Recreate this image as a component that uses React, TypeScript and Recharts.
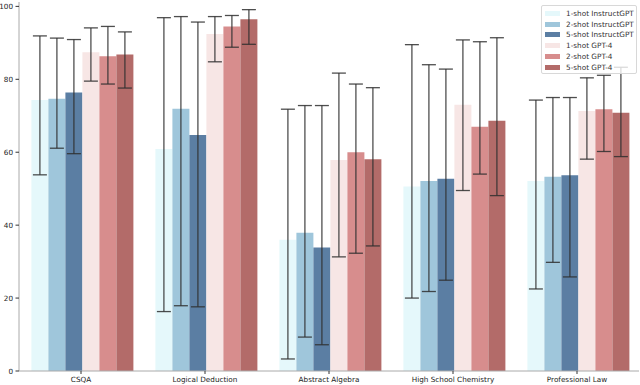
import { BarChart, Bar, XAxis, YAxis, ErrorBar, Legend } from 'recharts';

document.body.style.margin = '0';

const categories = ['CSQA', 'Logical Deduction', 'Abstract Algebra', 'High School Chemistry', 'Professional Law'];
const yTicks = [0, 20, 40, 60, 80, 100];

// bar heights
const oneShotIG = [74.3, 60.9, 36.0, 50.6, 52.1];
const twoShotIG = [74.7, 71.9, 37.9, 52.1, 53.3];
const fiveShotIG = [76.4, 64.7, 33.9, 52.7, 53.7];
const oneShotG4 = [87.4, 92.4, 57.9, 73.0, 71.3];
const twoShotG4 = [86.3, 94.5, 60.0, 67.0, 71.8];
const fiveShotG4 = [86.8, 96.5, 58.1, 68.6, 70.8];

// error bar ends (lower, upper)
const oneShotIGLo = [53.8, 16.3, 3.3, 20.0, 22.5];
const oneShotIGHi = [91.9, 96.9, 71.8, 89.5, 74.3];
const twoShotIGLo = [61.1, 17.9, 9.3, 21.8, 29.8];
const twoShotIGHi = [91.3, 97.2, 72.8, 84.0, 75.0];
const fiveShotIGLo = [59.6, 17.6, 7.2, 24.9, 25.8];
const fiveShotIGHi = [90.9, 95.7, 72.8, 82.8, 75.0];
const oneShotG4Lo = [79.5, 84.8, 31.3, 49.5, 58.1];
const oneShotG4Hi = [94.1, 97.2, 81.7, 90.8, 80.4];
const twoShotG4Lo = [78.7, 88.8, 32.3, 54.0, 60.2];
const twoShotG4Hi = [94.5, 97.5, 78.7, 90.3, 81.1];
const fiveShotG4Lo = [77.6, 89.6, 34.3, 48.1, 58.8];
const fiveShotG4Hi = [93.0, 99.1, 77.7, 91.4, 83.3];

const series = [
  { key: 's1', name: '1-shot InstructGPT', color: '#e5f8fb', vals: oneShotIG, lo: oneShotIGLo, hi: oneShotIGHi },
  { key: 's2', name: '2-shot InstructGPT', color: '#9fc6db', vals: twoShotIG, lo: twoShotIGLo, hi: twoShotIGHi },
  { key: 's3', name: '5-shot InstructGPT', color: '#5b7ea3', vals: fiveShotIG, lo: fiveShotIGLo, hi: fiveShotIGHi },
  { key: 's4', name: '1-shot GPT-4', color: '#f7e6e5', vals: oneShotG4, lo: oneShotG4Lo, hi: oneShotG4Hi },
  { key: 's5', name: '2-shot GPT-4', color: '#d78d8d', vals: twoShotG4, lo: twoShotG4Lo, hi: twoShotG4Hi },
  { key: 's6', name: '5-shot GPT-4', color: '#b36b69', vals: fiveShotG4, lo: fiveShotG4Lo, hi: fiveShotG4Hi },
];

const data = categories.map((name, i) => {
  const row: any = { name };
  series.forEach(s => {
    row[s.key] = s.vals[i];
    row[s.key + 'Err'] = [s.vals[i] - s.lo[i], s.hi[i] - s.vals[i]];
  });
  return row;
});

const FONT = '"DejaVu Sans", sans-serif';

const LegendBox = () => (
  <div
    style={{
      position: 'absolute',
      left: 541,
      top: 5,
      width: 96,
      height: 69,
      boxSizing: 'border-box',
      background: 'rgba(255,255,255,0.8)',
      border: '1px solid #d8d8d8',
      borderRadius: 2,
      padding: '2px 0 0 3px',
      fontFamily: FONT,
      fontSize: 7.3,
      color: '#333',
    }}
  >
    {series.map(s => (
      <div key={s.key} style={{ display: 'flex', alignItems: 'center', height: 10.8 }}>
        <span style={{ width: 15, height: 5, background: s.color, marginRight: 6, flexShrink: 0 }} />
        <span style={{ whiteSpace: 'nowrap' }}>{s.name}</span>
      </div>
    ))}
  </div>
);

export default function App() {
  return (
    <div style={{ position: 'relative', width: 640, height: 385, background: '#fff' }}>
      <BarChart
        width={640}
        height={385}
        data={data}
        margin={{ top: 2, right: 1, left: 0, bottom: 0 }}
        barCategoryGap="10%"
        barGap={0}
      >
        <XAxis
          dataKey="name"
          height={14}
          stroke="#aaa"
          tickLine={{ stroke: '#333' }}
          tickSize={3}
          tickMargin={3}
          tick={{ fill: '#222', fontSize: 7.25, fontFamily: FONT }}
          interval={0}
        />
        <XAxis xAxisId="top" orientation="top" dataKey="name" height={0} stroke="#aaa" tick={false} tickLine={false} />
        <YAxis
          width={19}
          domain={[0, 101.2]}
          ticks={yTicks}
          stroke="#aaa"
          tickLine={{ stroke: '#333' }}
          tickSize={3.5}
          tickMargin={2.5}
          tick={{ fill: '#222', fontSize: 7.25, fontFamily: FONT }}
        />
        <YAxis yAxisId="right" orientation="right" width={0} domain={[0, 101.2]} stroke="#aaa" tick={false} tickLine={false} />
        {series.map(s => (
          <Bar key={s.key} dataKey={s.key} name={s.name} fill={s.color} isAnimationActive={false}>
            <ErrorBar
              dataKey={s.key + 'Err'}
              width={7}
              stroke="#2f2f2f"
              strokeOpacity={0.85}
              strokeWidth={1.3}
              direction="y"
            />
          </Bar>
        ))}
        <Legend content={() => null} />
      </BarChart>
      <LegendBox />
    </div>
  );
}
